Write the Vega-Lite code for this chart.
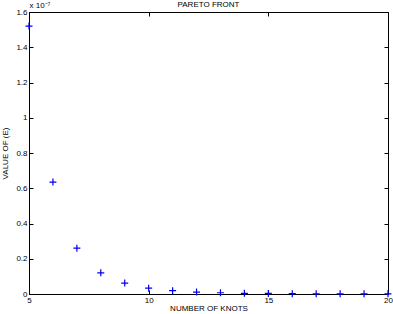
{
  "$schema": "https://vega.github.io/schema/vega-lite/v6.json",
  "autosize": "none",
  "padding": {"left": 29, "top": 12, "right": 5, "bottom": 20},
  "width": 359,
  "height": 282,
  "background": "white",
  "config": {
    "font": "Liberation Sans",
    "view": {"stroke": "black", "strokeWidth": 1},
    "axis": {
      "domainColor": "black",
      "tickColor": "black",
      "tickSize": -4,
      "labelFontSize": 8,
      "labelColor": "black",
      "titleFontSize": 8,
      "titleFontWeight": "normal",
      "titleColor": "black",
      "grid": false,
      "labelFont": "Liberation Sans",
      "titleFont": "Liberation Sans"
    }
  },
  "title": {"text": "PARETO FRONT", "fontSize": 8, "fontWeight": "normal", "font": "Liberation Sans", "color": "black", "offset": -8},
  "data": {
    "values": [
      {"knots": 5, "E": 1.52e-7},
      {"knots": 6, "E": 0.635e-7},
      {"knots": 7, "E": 0.26e-7},
      {"knots": 8, "E": 0.12e-7},
      {"knots": 9, "E": 0.062e-7},
      {"knots": 10, "E": 0.033e-7},
      {"knots": 11, "E": 0.019e-7},
      {"knots": 12, "E": 0.011e-7},
      {"knots": 13, "E": 0.007e-7},
      {"knots": 14, "E": 0.004e-7},
      {"knots": 15, "E": 0.003e-7},
      {"knots": 16, "E": 0.002e-7},
      {"knots": 17, "E": 0.0015e-7},
      {"knots": 18, "E": 0.001e-7},
      {"knots": 19, "E": 0.001e-7},
      {"knots": 20, "E": 0.0008e-7}
    ]
  },
  "resolve": {"axis": {"x": "independent", "y": "independent"}},
  "layer": [
    {
      "mark": {"type": "point", "shape": "M-1,0H1M0,-1V1", "filled": false, "stroke": "#0000ee", "strokeWidth": 1.2, "size": 49, "opacity": 1, "clip": false},
      "encoding": {
        "x": {"field": "knots", "type": "quantitative", "scale": {"domain": [5, 20], "nice": false, "zero": false},
          "axis": {"values": [5, 10, 15, 20], "title": "NUMBER OF KNOTS", "labelPadding": 6, "titlePadding": 0, "labelFlush": false}},
        "y": {"field": "E", "type": "quantitative", "scale": {"domain": [0, 1.6e-7], "nice": false},
          "axis": {"values": [0, 0.2e-7, 0.4e-7, 0.6e-7, 0.8e-7, 1e-7, 1.2e-7, 1.4e-7, 1.6e-7], "labelFlush": false,
            "labelExpr": "format(datum.value*1e7, '.1~f')", "title": "VALUE OF (E)", "labelPadding": 6, "titlePadding": 6}}
      }
    },
    {
      "mark": {"type": "point", "opacity": 0},
      "encoding": {
        "x": {"field": "knots", "type": "quantitative", "scale": {"domain": [5, 20], "nice": false, "zero": false},
          "axis": {"orient": "top", "values": [5, 10, 15, 20], "labels": false, "title": "x 10⁻⁷", "titleAnchor": "start", "titleX": 0, "titleY": -3, "titleFontSize": 8}},
        "y": {"field": "E", "type": "quantitative", "scale": {"domain": [0, 1.6e-7], "nice": false},
          "axis": {"orient": "right", "values": [0, 0.2e-7, 0.4e-7, 0.6e-7, 0.8e-7, 1e-7, 1.2e-7, 1.4e-7, 1.6e-7], "labels": false, "title": null}}
      }
    }
  ]
}
